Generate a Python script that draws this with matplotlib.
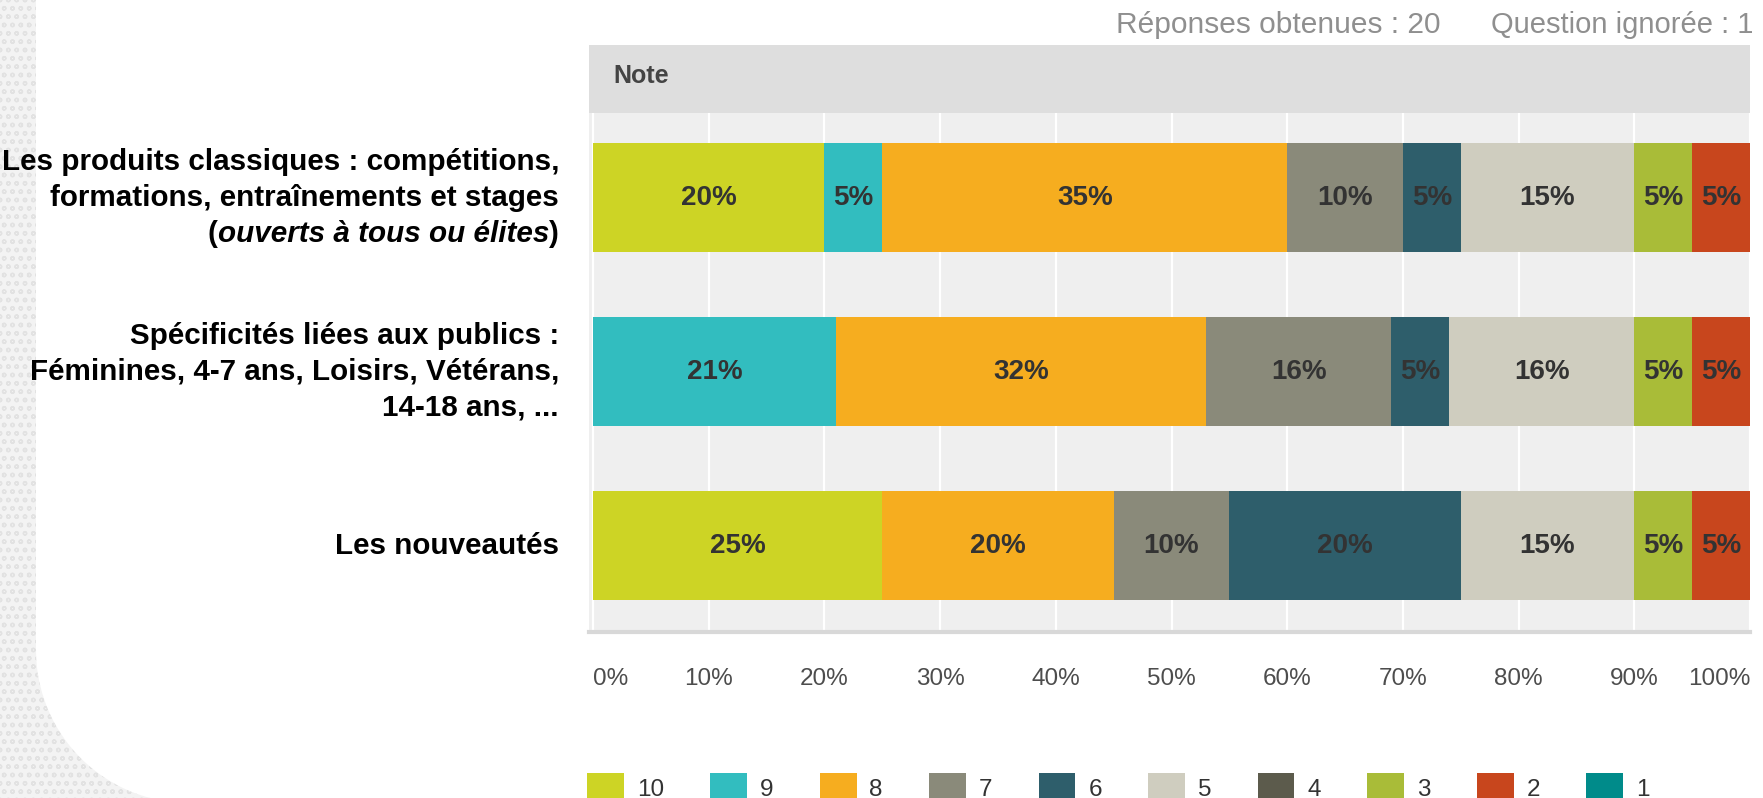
import numpy as np
import matplotlib
matplotlib.use("Agg")
import matplotlib.pyplot as plt
from matplotlib.patches import Rectangle, PathPatch, FancyBboxPatch
from matplotlib.path import Path
from matplotlib.legend_handler import HandlerPatch

plt.rcParams['font.family'] = ['Liberation Sans', 'DejaVu Sans']

# data (percent of answers per note)
scores = ['10', '9', '8', '7', '6', '5', '4', '3', '2', '1']
colors = ['#cdd425', '#32bdbf', '#f6ad1f', '#8a8a7a', '#2e5e6b',
          '#cfcdbf', '#5c5b4c', '#a9bc38', '#c8461d', '#008b8a']
classiques = [20, 5, 35, 10, 5, 15, 0, 5, 5, 0]
publics = [0, 21, 32, 16, 5, 16, 0, 5, 5, 0]
nouveautes = [25, 0, 20, 10, 20, 15, 0, 5, 5, 0]
rows = [classiques, publics, nouveautes]

W, H = 1763, 798
fig = plt.figure(figsize=(W / 100, H / 100), dpi=100)

def fx(px):
    return px / W

def fy(py):
    return 1 - py / H

# textured slide background + white rounded panel
bg = Rectangle((0, 0), 1, 1, transform=fig.transFigure, facecolor='#f3f3f3',
               edgecolor='#e2e2e2', hatch='oo', lw=0, zorder=-20)
fig.add_artist(bg)
R = 153
cx, cy = 36 + R, 650
ang = np.linspace(np.pi, 1.5 * np.pi, 40)
pts = [(36, -5), (36, cy)]
pts += [(cx + R * np.cos(a), cy - R * np.sin(a)) for a in ang]
pts += [(W + 5, cy + R + 5), (W + 5, -5)]
pts = [(fx(x), fy(y)) for x, y in pts]
white = PathPatch(Path(pts + [pts[0]], closed=True), transform=fig.transFigure,
                  facecolor='white', edgecolor='none', zorder=-10)
fig.add_artist(white)

# header band
left_px, right_px, top_px, bot_px = 589, 1750, 113, 632
fig.add_artist(Rectangle((fx(left_px), fy(top_px)), fx(right_px - left_px), (top_px - 45) / H,
                         transform=fig.transFigure, facecolor='#dedede', edgecolor='none'))
fig.text(fx(613), fy(76), 'Note', fontsize=18, fontweight='bold', color='#444444', va='center')

fig.text(fx(1753), fy(25), 'Question ignorée : 1', fontsize=21, color='#8f8f8f',
         ha='right', va='center')
fig.text(fx(1440), fy(25), 'Réponses obtenues : 20', fontsize=21.5, color='#8f8f8f',
         ha='right', va='center')

ax = fig.add_axes([fx(left_px), fy(bot_px), fx(right_px - left_px), (bot_px - top_px) / H])
ax.set_facecolor('#efefef')

y = np.arange(len(rows))
lefts = np.zeros(len(rows))
for j, s in enumerate(scores):
    vals = np.array([r[j] for r in rows])
    bars = ax.barh(y, vals, left=lefts, height=0.626, color=colors[j], label=s)
    ax.bar_label(bars, labels=[f'{v}%' if v else '' for v in vals], label_type='center',
                 fontsize=20, fontweight='bold', color='#333333')
    lefts += vals

ax.set_xlim(-0.35, 100)
ax.set_ylim(2.497, -0.486)
ax.set_xticks(range(0, 101, 10))
ax.set_xticklabels([f'{t}%' for t in range(0, 101, 10)])
tl = ax.get_xticklabels()
tl[0].set_ha('left')
tl[-1].set_ha('right')
ax.tick_params(axis='x', length=0, pad=26, labelsize=17.5, labelcolor='#4d4d4d')
ax.set_yticks([])
ax.grid(axis='x', color='white', lw=1.6)
ax.set_axisbelow(True)
for sp in ['top', 'left', 'right']:
    ax.spines[sp].set_visible(False)
ax.spines['bottom'].set_color('#d8d8d8')
ax.spines['bottom'].set_linewidth(3)

# category labels
lab_kw = dict(xycoords=('axes fraction', 'data'), textcoords='offset pixels',
              ha='right', va='center', fontsize=21.3, fontweight='bold', color='black')
lines = [
    ['Les produits classiques : compétitions,', 'formations, entraînements et stages'],
    ['Spécificités liées aux publics :', 'Féminines, 4-7 ans, Loisirs, Vétérans,', '14-18 ans, ...'],
    ['Les nouveautés'],
]
step = 36
for i, ls in enumerate(lines):
    n = 3 if i == 0 else len(ls)
    for k, txt in enumerate(ls):
        ax.annotate(txt, xy=(0, i), xytext=(-30, ((n - 1) / 2 - k) * step), **lab_kw)

# third line of first label, mixed styles
rend = fig.canvas.get_renderer()
xoff = -30
for part, style in [(')', 'normal'), ('ouverts à tous ou élites', 'italic'), ('(', 'normal')]:
    t = ax.annotate(part, xy=(0, 0), xytext=(xoff, -step), fontstyle=style, **lab_kw)
    xoff -= t.get_window_extent(rend).width


def round_patch(legend, orig_handle, xdescent, ydescent, width, height, fontsize):
    return FancyBboxPatch((-xdescent, -ydescent), width, height,
                          boxstyle='round,pad=0,rounding_size=4')


fig.legend(*ax.get_legend_handles_labels(), ncol=10, loc='upper left',
           bbox_to_anchor=(fx(587), fy(773)), frameon=False, borderpad=0, borderaxespad=0,
           handlelength=1.52, handleheight=1.52, handletextpad=0.53, columnspacing=1.9,
           fontsize=17.5, labelcolor='#333333',
           handler_map={matplotlib.patches.Rectangle: HandlerPatch(patch_func=round_patch)})

fig.savefig('out.png', dpi=100)
